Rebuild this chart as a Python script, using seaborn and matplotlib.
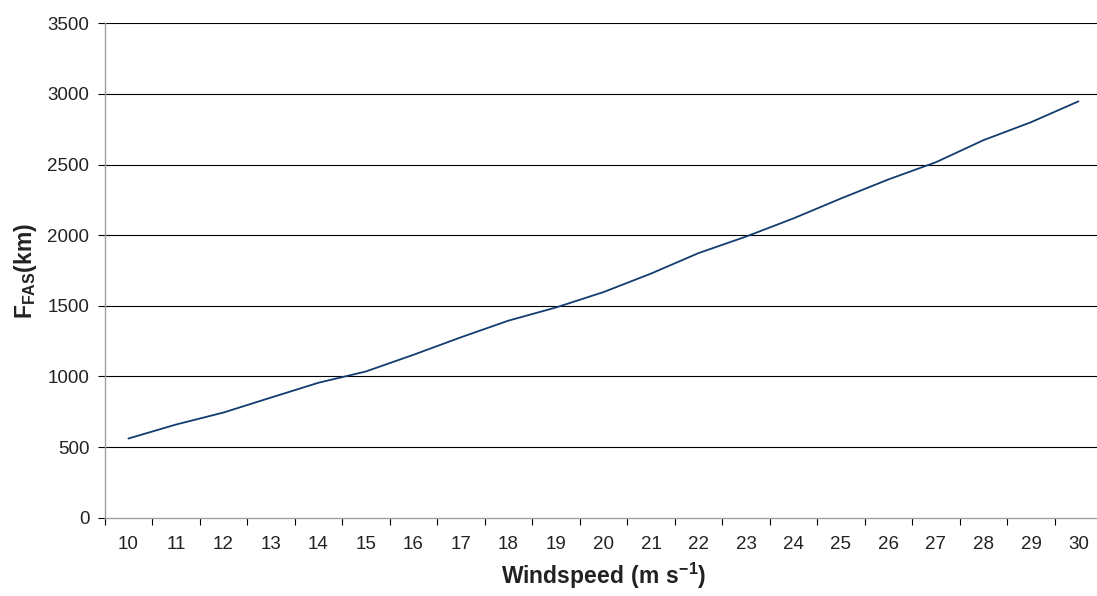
import numpy as np
import pandas as pd
import seaborn as sns
import matplotlib
matplotlib.use("Agg")
from matplotlib import pyplot as plt
from matplotlib.ticker import MultipleLocator

# windspeed categories and fetch values
windspeed = list(range(10, 31))
fetch_km = [560, 659, 744, 850, 955, 1035, 1153, 1277, 1395, 1488, 1597,
            1728, 1873, 1990, 2119, 2260, 2395, 2517, 2673, 2800, 2948]
y_ticks = [0, 500, 1000, 1500, 2000, 2500, 3000, 3500]

df = pd.DataFrame({"Windspeed": windspeed, "Fetch": fetch_km})

sns.set_style("white")
plt.rcParams["font.family"] = ["Liberation Sans", "DejaVu Sans"]
plt.rcParams["mathtext.fontset"] = "custom"
plt.rcParams["mathtext.rm"] = "Liberation Sans"
plt.rcParams["mathtext.bf"] = "Liberation Sans:bold"

fig = plt.figure(figsize=(10.97, 5.96), dpi=100)
ax = fig.add_axes([104.7 / 1097, 78.4 / 596, 997.5 / 1097, 494.2 / 596])

sns.lineplot(data=df, x="Windspeed", y="Fetch", ax=ax, color="#123c6e", linewidth=1.3)

# horizontal gridlines
for v in y_ticks[1:]:
    ax.axhline(v, color="black", linewidth=0.8, zorder=0)

ax.set_xlim(9.5, 30.5)
ax.set_ylim(0, 3500)
ax.set_yticks(y_ticks)
ax.set_xticks(windspeed)
ax.xaxis.set_minor_locator(MultipleLocator(1, offset=0.5))
ax.tick_params(axis="x", which="major", length=0, pad=13, labelsize=13.5, colors="#222222")
ax.tick_params(axis="x", which="minor", length=5, width=0.8, color="black", bottom=True)
ax.tick_params(axis="y", which="major", length=5, width=0.8, color="black", left=True,
               pad=6, labelsize=13.5, labelcolor="#222222")

for side in ["top", "right"]:
    ax.spines[side].set_visible(False)
for side in ["left", "bottom"]:
    ax.spines[side].set_color("#a0a0a0")
    ax.spines[side].set_linewidth(1.0)

ax.set_xlabel(r"$\mathbf{Windspeed\ (m\ s^{-1})}$", fontsize=16.5, labelpad=6, color="#222222")
ax.set_ylabel(r"$\mathbf{F_{FAS}(km)}$", fontsize=16.5, labelpad=6, color="#222222")

fig.savefig("out.png", dpi=100)
